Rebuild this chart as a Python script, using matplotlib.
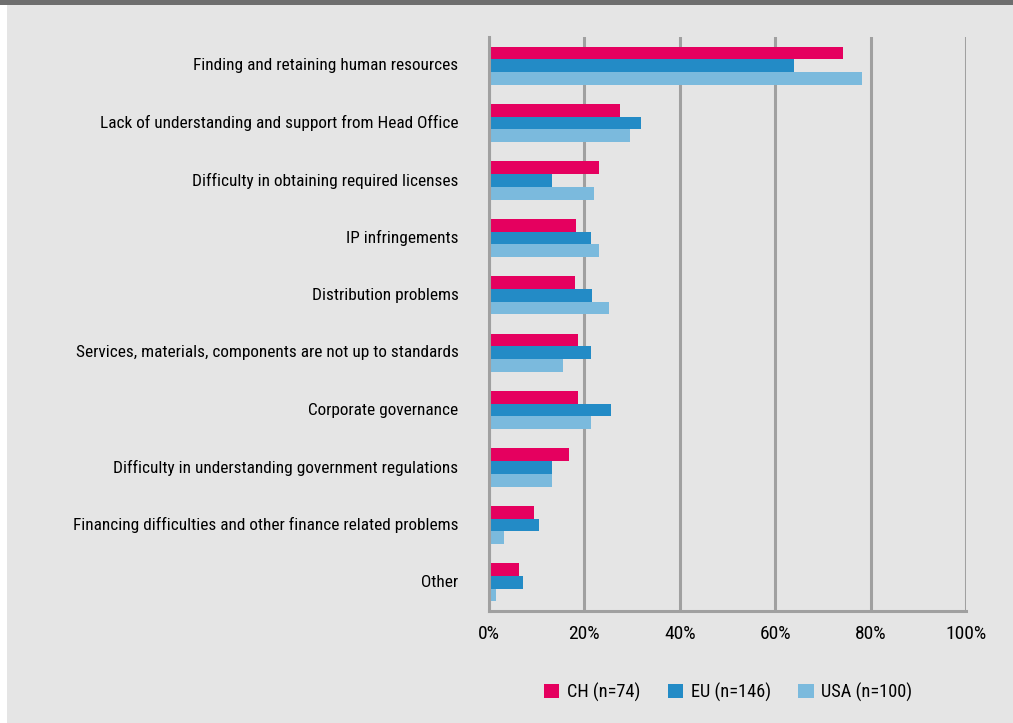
import numpy as np
import matplotlib
matplotlib.use("Agg")
import matplotlib.pyplot as plt
from matplotlib.patches import Rectangle
from matplotlib import font_manager

# condensed font if there is one, else Liberation Sans
names = {f.name for f in font_manager.fontManager.ttflist}
font = 'Liberation Sans'
for cand in ['Liberation Sans Narrow', 'Roboto Condensed', 'Open Sans Condensed']:
    if cand in names:
        font = cand
        break
plt.rcParams['font.family'] = [font, 'DejaVu Sans']
scale = 1.0 if font != 'Liberation Sans' else 0.88

categories = [
    "Finding and retaining human resources",
    "Lack of understanding and support from Head Office",
    "Difficulty in obtaining required licenses",
    "IP infringements",
    "Distribution problems",
    "Services, materials, components are not up to standards",
    "Corporate governance",
    "Difficulty in understanding government regulations",
    "Financing difficulties and other finance related problems",
    "Other",
]
ch = [74.2, 27.5, 23.1, 18.2, 18.0, 18.7, 18.7, 16.8, 9.4, 6.3]
eu = [63.9, 31.9, 13.2, 21.4, 21.6, 21.4, 25.6, 13.2, 10.5, 7.1]
usa = [78.2, 29.6, 22.0, 23.1, 25.2, 15.5, 21.4, 13.2, 3.1, 1.5]
series_names = ["CH (n=74)", "EU (n=146)", "USA (n=100)"]
colors = ["#e5005f", "#238bc6", "#7bbadd"]
xticks = [0, 20, 40, 60, 80, 100]

bg = "#e5e5e5"
grid_c = "#a0a0a0"

fig = plt.figure(figsize=(10.13, 7.23), dpi=100, facecolor=bg)
# white strip on the left and dark band on top
fig.patches.append(Rectangle((0, 0), 7 / 1013, 1, transform=fig.transFigure,
                             facecolor="white", edgecolor="none", zorder=0))
fig.patches.append(Rectangle((0, 1 - 5 / 723), 1, 5 / 723, transform=fig.transFigure,
                             facecolor="#6e6e6e", edgecolor="none", zorder=0))

ax = fig.add_axes([489 / 1013, 1 - 611 / 723, 477 / 1013, 574 / 723])
ax.set_facecolor(bg)

y = np.arange(len(categories))
h = 0.221
for k, (vals, col, name) in enumerate(zip([ch, eu, usa], colors, series_names)):
    ax.barh(y + (k - 1) * h, vals, height=h, color=col, label=name, zorder=2)

ax.set_xlim(0, 100)
ax.set_ylim(len(categories) - 0.5, -0.5)
ax.set_xticks(xticks)
ax.set_xticklabels([f"{t}%" for t in xticks], fontsize=14 * scale)
ax.set_yticks(y)
ax.set_yticklabels(categories, fontsize=12.4 * scale, va='center')
ax.tick_params(axis='both', length=0)
ax.tick_params(axis='y', pad=22)
ax.tick_params(axis='x', pad=10)

ax.grid(axis='x', color=grid_c, linewidth=2.2, zorder=1)
ax.set_axisbelow(True)
for s in ['top', 'right']:
    ax.spines[s].set_visible(False)
for s in ['left', 'bottom']:
    ax.spines[s].set_color(grid_c)
    ax.spines[s].set_linewidth(2.2)
    ax.spines[s].set_zorder(3)

fig.legend(loc='center', bbox_to_anchor=(728 / 1013, 1 - 692 / 723), ncol=3,
           frameon=False, fontsize=13.2 * scale, handlelength=0.85, handleheight=0.85,
           handletextpad=0.4, columnspacing=1.5, borderaxespad=0)

fig.savefig("out.png", dpi=100, facecolor=bg)
